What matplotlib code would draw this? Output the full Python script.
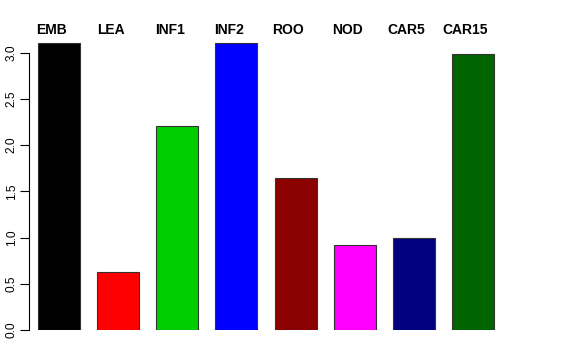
import matplotlib
matplotlib.use("Agg")
import matplotlib.pyplot as plt

# 数据
labels = ['EMB', 'LEA', 'INF1', 'INF2', 'ROO', 'NOD', 'CAR5', 'CAR15']
values = [3.11, 0.625, 2.21, 3.10, 1.645, 0.915, 1.0, 2.99]
colors = ['#000000', '#FF0000', '#00CD00', '#0000FF', '#8B0000', '#FF00FF', '#000080', '#006400']
yticks = [0.0, 0.5, 1.0, 1.5, 2.0, 2.5, 3.0]

plt.rcParams['font.family'] = ['Liberation Sans', 'DejaVu Sans']

W, H = 576, 360
fig = plt.figure(figsize=(W / 100, H / 100), dpi=100)

# 像素坐标 -> 坐标轴位置
px_per_unit = 92.43
x0, step = 59.0, 59.14
left_px, right_px = 29.0, 502.6
bottom_px, top_px = 330.0, 30.0
ax = fig.add_axes([left_px / W, (H - bottom_px) / H,
                   (right_px - left_px) / W, (bottom_px - top_px) / H])

xs = list(range(len(labels)))
ax.bar(xs, values, width=42 / step, color=colors, edgecolor='#333333', linewidth=0.8)

ax.set_xlim((left_px - x0) / step, (right_px - x0) / step)
ax.set_ylim(0, (bottom_px - top_px) / px_per_unit)

# 顶部标签
for x, lab in zip(xs, labels):
    ax.text(x - 0.125, (bottom_px - 34) / px_per_unit, lab, ha='center', va='baseline',
            fontsize=10, fontweight='bold', clip_on=False)

for s in ['top', 'right', 'bottom']:
    ax.spines[s].set_visible(False)
ax.spines['left'].set_bounds(0, 3)
ax.spines['left'].set_linewidth(0.8)
ax.set_xticks([])
ax.set_yticks(yticks)
ax.set_yticklabels(['%.1f' % t for t in yticks], rotation=90, va='center', fontsize=8.6)
ax.tick_params(axis='y', length=6.2, width=0.8, pad=2)

fig.savefig('out.png', dpi=100)
